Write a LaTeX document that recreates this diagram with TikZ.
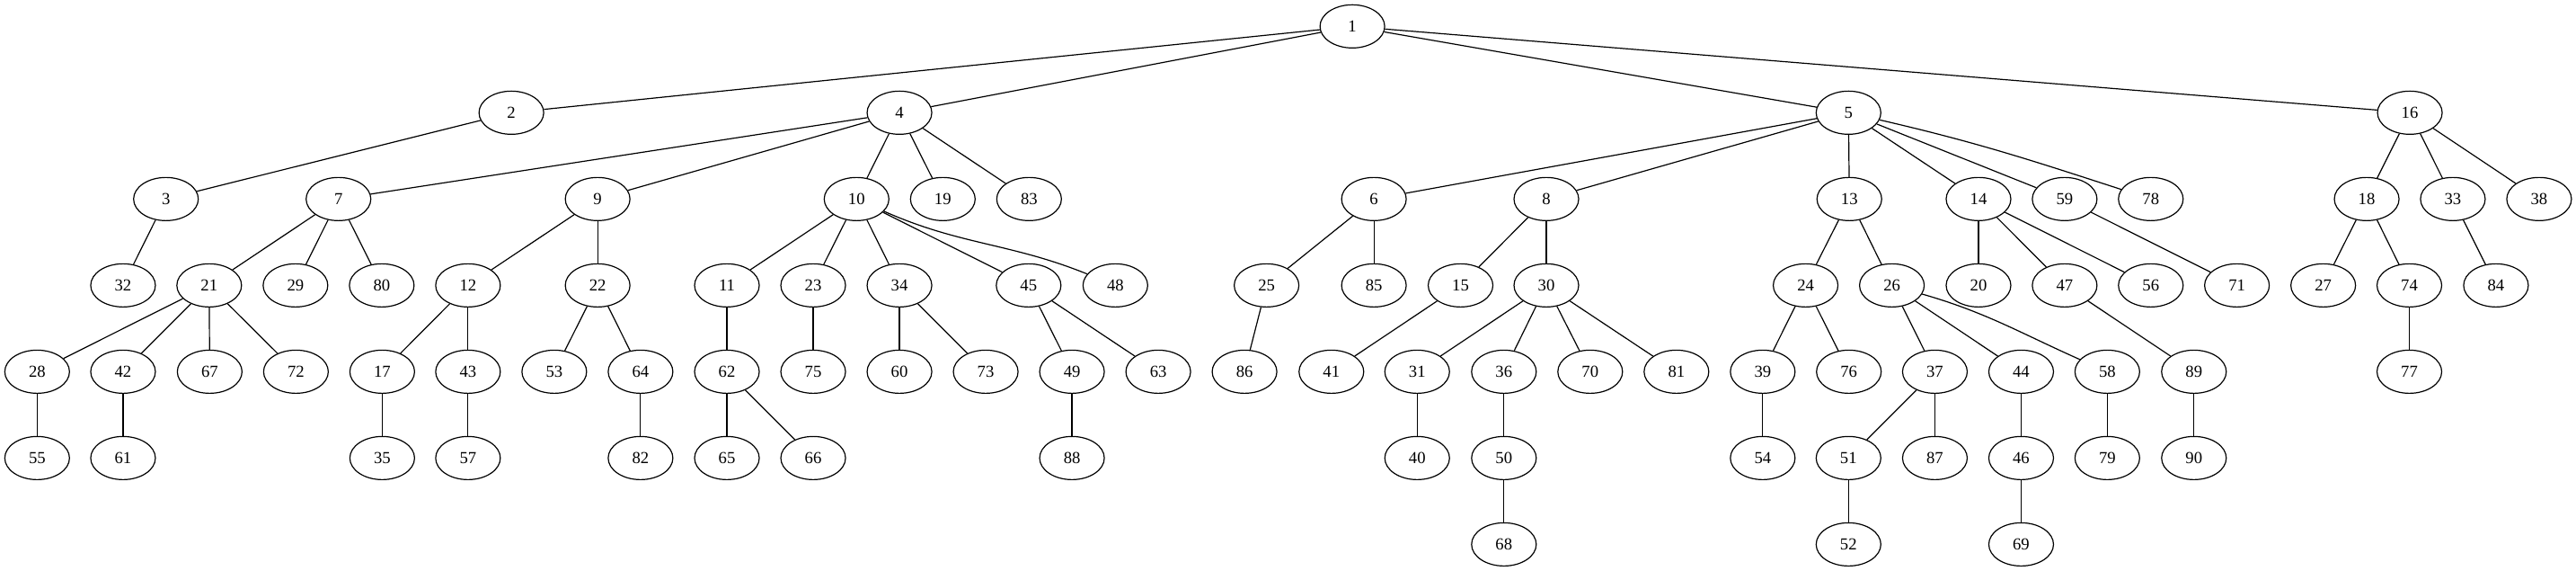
\documentclass[tikz,border=0pt]{standalone}
\usepackage{fontspec}
\setmainfont{Liberation Serif}
\usetikzlibrary{shapes.geometric}
\tikzset{
  nd/.style={draw, ellipse, line width=0.9pt, minimum width=54pt, minimum height=36pt, inner sep=0pt,
    font=\fontsize{14pt}{16pt}\selectfont},
  edge/.style={line width=0.9pt}
}
\begin{document}
\begin{tikzpicture}[x=1pt,y=1pt]
\useasboundingbox (0,0) rectangle (2150,-476);
\foreach \n/\x/\r in {
 1/1128.7/0,
 2/426.8/1, 4/750.7/1, 5/1542.8/1, 16/2011.3/1,
 3/138.5/2, 7/282.5/2, 9/498.8/2, 10/714.9/2, 19/786.9/2, 83/858.9/2, 6/1146.7/2, 8/1290.6/2, 13/1543.5/2, 14/1651.3/2, 59/1723.2/2, 78/1795.1/2, 18/1975.3/2, 33/2047.2/2, 38/2119.2/2,
 32/102.7/3, 21/174.6/3, 29/246.6/3, 80/318.6/3, 12/390.6/3, 22/498.8/3, 11/606.7/3, 23/678.7/3, 34/750.7/3, 45/858.5/3, 48/930.9/3, 25/1057.1/3, 85/1146.7/3, 15/1219/3, 30/1290.6/3, 24/1507/3, 26/1579/3, 20/1651.3/3, 47/1723.2/3, 56/1795.1/3, 71/1867/3, 27/1939/3, 74/2010.9/3, 84/2083.2/3,
 28/31/4, 42/102.7/4, 67/175/4, 72/247/4, 17/319/4, 43/390.6/4, 53/462.6/4, 64/534.6/4, 62/606.7/4, 75/678.7/4, 60/750.7/4, 73/822.7/4, 49/894.7/4, 63/966.7/4, 86/1038.7/4, 41/1111.2/4, 31/1182.8/4, 36/1255.2/4, 70/1327.2/4, 81/1399.2/4, 39/1471.2/4, 76/1543.1/4, 37/1614.9/4, 44/1686.9/4, 58/1758.8/4, 89/1831.1/4, 77/2010.9/4,
 55/31/5, 61/102.7/5, 35/319/5, 57/390.6/5, 82/534.6/5, 65/606.7/5, 66/678.7/5, 88/894.7/5, 40/1182.8/5, 50/1255.2/5, 54/1471.2/5, 51/1542.8/5, 87/1614.9/5, 46/1686.9/5, 79/1758.8/5, 90/1831.1/5,
 68/1255.2/6, 52/1542.8/6, 69/1686.9/6}
 { \node[nd] (n\n) at (\x, -22-72*\r) {\n}; }
\foreach \a/\b in {
 1/2, 1/4, 1/5, 1/16, 2/3, 3/32,
 4/7, 4/9, 4/10, 4/19, 4/83,
 7/21, 7/29, 7/80, 21/28, 21/42, 21/67, 21/72, 28/55, 42/61,
 9/12, 9/22, 12/17, 12/43, 17/35, 43/57, 22/53, 22/64, 64/82,
 10/11, 10/23, 10/34, 10/45, 11/62, 62/65, 62/66, 23/75, 34/60, 34/73, 45/49, 45/63, 49/88,
 5/6, 5/8, 5/13, 5/14, 5/59,
 6/25, 6/85, 25/86, 8/15, 8/30, 15/41, 30/31, 30/36, 30/70, 30/81, 31/40, 36/50, 50/68,
 13/24, 13/26, 24/39, 24/76, 39/54, 26/37, 26/44, 37/51, 37/87, 51/52, 44/46, 46/69, 58/79,
 14/20, 14/47, 14/56, 47/89, 89/90, 59/71,
 16/18, 16/33, 16/38, 18/27, 18/74, 74/77, 33/84}
 { \draw[edge] (n\a) -- (n\b); }
\draw[edge] (n10) to[out=-24, in=158] (n48);
\draw[edge] (n5) to[out=-13, in=162] (n78);
\draw[edge] (n26) to[out=-16, in=156] (n58);
\end{tikzpicture}
\end{document}
